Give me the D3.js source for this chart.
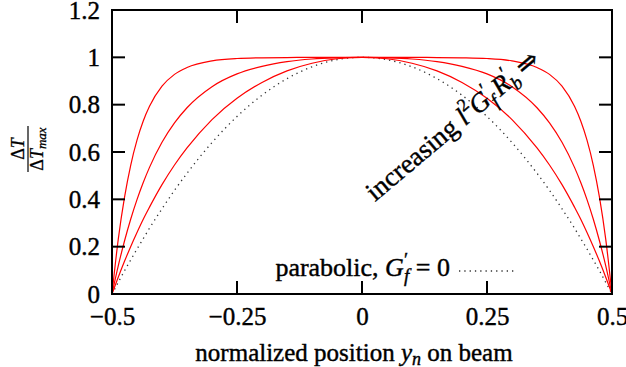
<!DOCTYPE html>
<html>
<head>
<meta charset="utf-8">
<script src="https://cdn.jsdelivr.net/npm/d3@7"></script>
<style>
  body { margin: 0; background: #fff; }
</style>
</head>
<body>
<svg id="chart"></svg>
<script>
// normalized position on the beam
var positions = [-0.5, -0.4875, -0.475, -0.4625, -0.45, -0.4375, -0.425, -0.4, -0.375, -0.35, -0.3, -0.25, -0.2, -0.15, -0.1, -0.05,
                 0, 0.05, 0.1, 0.15, 0.2, 0.25, 0.3, 0.35, 0.375, 0.4, 0.425, 0.4375, 0.45, 0.4625, 0.475, 0.4875, 0.5]

// three red profiles, weakest to strongest
var profileLow = [0, 0.071, 0.138, 0.201, 0.260, 0.316, 0.367, 0.462, 0.545, 0.617, 0.737, 0.827, 0.894, 0.943, 0.975, 0.994,
                  1, 0.994, 0.975, 0.943, 0.894, 0.827, 0.737, 0.617, 0.545, 0.462, 0.367, 0.316, 0.260, 0.201, 0.138, 0.071, 0]
var profileMid = [0, 0.119, 0.224, 0.317, 0.399, 0.471, 0.535, 0.641, 0.723, 0.787, 0.876, 0.930, 0.962, 0.982, 0.993, 0.998,
                  1, 0.998, 0.993, 0.982, 0.962, 0.930, 0.876, 0.787, 0.723, 0.641, 0.535, 0.471, 0.399, 0.317, 0.224, 0.119, 0]
var profileHigh = [0, 0.231, 0.408, 0.545, 0.650, 0.731, 0.793, 0.878, 0.928, 0.957, 0.985, 0.995, 0.998, 0.999, 1, 1,
                   1, 1, 1, 0.999, 0.998, 0.995, 0.985, 0.957, 0.928, 0.878, 0.793, 0.731, 0.650, 0.545, 0.408, 0.231, 0]
// parabolic, G'f = 0
var parabolic = [0, 0.049, 0.098, 0.144, 0.190, 0.234, 0.278, 0.360, 0.438, 0.510, 0.640, 0.750, 0.840, 0.910, 0.960, 0.990,
                 1, 0.990, 0.960, 0.910, 0.840, 0.750, 0.640, 0.510, 0.438, 0.360, 0.278, 0.234, 0.190, 0.144, 0.098, 0.049, 0]

var xTicks = [-0.5, -0.25, 0, 0.25, 0.5]
var yTicks = [0, 0.2, 0.4, 0.6, 0.8, 1, 1.2]

var serif = "'Liberation Serif', 'Times New Roman', 'DejaVu Serif', serif"

var dimensions = {
    width: 626,
    height: 367,
    margin: { top: 10, bottom: 73, right: 14, left: 112 }
}

var svg = d3.select("#chart")
            .attr("width", dimensions.width)
            .attr("height", dimensions.height)
            .style("font-family", serif)

var xScale = d3.scaleLinear()
               .domain([-0.5, 0.5])
               .range([dimensions.margin.left, dimensions.width - dimensions.margin.right])

var yScale = d3.scaleLinear()
               .domain([0, 1.2])
               .range([dimensions.height - dimensions.margin.bottom, dimensions.margin.top])

var x0 = xScale.range()[0], x1 = xScale.range()[1]
var y0 = yScale.range()[0], y1 = yScale.range()[1]
var tickLen = 13

// slightly heavier glyphs, like the reference
function heavy(sel, w){
    sel.style("font-family", serif).attr("fill", "#000").attr("stroke", "#000").attr("stroke-width", w || 0.4)
}

var line = d3.line()
             .x((d, i) => xScale(positions[i]))
             .y(d => yScale(d))
             .curve(d3.curveMonotoneX)

// curves
svg.append("path")
   .attr("d", line(parabolic))
   .attr("fill", "none")
   .attr("stroke", "#333")
   .attr("stroke-width", 1.3)
   .attr("stroke-dasharray", "1.3,4")

var profiles = [profileLow, profileMid, profileHigh]
svg.append("g")
   .selectAll("path")
   .data(profiles)
   .enter()
   .append("path")
   .attr("d", d => line(d))
   .attr("fill", "none")
   .attr("stroke", "#ff0000")
   .attr("stroke-width", 1.2)

// axes with inward ticks on all four sides
var xAxisGen = d3.axisBottom(xScale).tickValues(xTicks).tickSize(0).tickPadding(13)
                 .tickFormat(d => d === 0 ? "0" : d3.format(".2~f")(d))
var xAxis = svg.append("g")
               .attr("transform", `translate(0,${y0})`)
               .call(xAxisGen)
xAxis.attr("font-family", null).attr("font-size", null)
xAxis.selectAll("text").style("font-size", "25px").attr("dy", "0.71em").call(heavy)

var yAxisGen = d3.axisLeft(yScale).tickValues(yTicks).tickSize(0).tickPadding(12)
                 .tickFormat(d => (d === 0 || d === 1) ? String(d) : d3.format(".1f")(d))
var yAxis = svg.append("g")
               .attr("transform", `translate(${x0},0)`)
               .call(yAxisGen)
yAxis.attr("font-family", null).attr("font-size", null)
yAxis.selectAll("text").style("font-size", "25px").call(heavy)
svg.selectAll(".domain").remove()

var ticks = svg.append("g").attr("stroke", "#000").attr("stroke-width", 2)
xTicks.slice(1, -1).forEach(function(t){
    ticks.append("line").attr("x1", xScale(t)).attr("x2", xScale(t)).attr("y1", y0).attr("y2", y0 - tickLen)
    ticks.append("line").attr("x1", xScale(t)).attr("x2", xScale(t)).attr("y1", y1).attr("y2", y1 + tickLen)
})
yTicks.slice(1, -1).forEach(function(t){
    ticks.append("line").attr("y1", yScale(t)).attr("y2", yScale(t)).attr("x1", x0).attr("x2", x0 + tickLen)
    ticks.append("line").attr("y1", yScale(t)).attr("y2", yScale(t)).attr("x1", x1).attr("x2", x1 - tickLen)
})

svg.append("rect")
   .attr("x", x0).attr("y", y1)
   .attr("width", x1 - x0).attr("height", y0 - y1)
   .attr("fill", "none")
   .attr("stroke", "#000")
   .attr("stroke-width", 2)

// x title
var xTitle = svg.append("text")
                .attr("x", 354)
                .attr("y", 361)
                .attr("text-anchor", "middle")
                .style("font-size", "25px")
                .call(heavy)
xTitle.append("tspan").text("normalized position ")
xTitle.append("tspan").style("font-style", "italic").text("y")
xTitle.append("tspan").style("font-style", "italic").style("font-size", "18px").attr("dy", 4).text("n")
xTitle.append("tspan").attr("dy", -4).text(" on beam")

// y title as a fraction
var yTitle = svg.append("g").attr("transform", "translate(28,149) rotate(-90)")
var num = yTitle.append("text").attr("x", 0).attr("y", -4).attr("text-anchor", "middle")
                .style("font-size", "18px").call(heavy, 0.3)
num.append("tspan").text("Δ")
num.append("tspan").style("font-style", "italic").text("T")
yTitle.append("line").attr("x1", -23).attr("x2", 23).attr("y1", 0).attr("y2", 0)
      .attr("stroke", "#000").attr("stroke-width", 1.2)
var den = yTitle.append("text").attr("x", 0).attr("y", 15).attr("text-anchor", "middle")
                .style("font-size", "18px").call(heavy, 0.3)
den.append("tspan").text("Δ")
den.append("tspan").style("font-style", "italic").text("T")
den.append("tspan").style("font-style", "italic").style("font-size", "13px").attr("dy", 3).text("max")

// annotation
var note = svg.append("text")
              .attr("transform", "translate(375,202) rotate(-40)")
              .style("font-size", "27px")
              .call(heavy)
note.append("tspan").text("increasing ")
note.append("tspan").style("font-style", "italic").text("l")
note.append("tspan").style("font-size", "18px").attr("dy", -12).text("2")
note.append("tspan").style("font-style", "italic").attr("dy", 12).text("G")
note.append("tspan").style("font-size", "20px").attr("dy", -10).text("′")
note.append("tspan").style("font-style", "italic").style("font-size", "19px").attr("dx", -4).attr("dy", 16).text("f")
note.append("tspan").style("font-style", "italic").attr("dx", 4).attr("dy", -6).text("R")
note.append("tspan").style("font-size", "20px").attr("dy", -10).text("′")
note.append("tspan").style("font-style", "italic").style("font-size", "19px").attr("dx", -4).attr("dy", 16).text("b")
note.append("tspan").attr("dx", 5).attr("dy", -6).text("⇒")

// key
var key = svg.append("text")
             .attr("x", 450)
             .attr("y", 276)
             .attr("text-anchor", "end")
             .style("font-size", "26px")
             .call(heavy)
key.append("tspan").text("parabolic, ")
key.append("tspan").style("font-style", "italic").text("G")
key.append("tspan").style("font-size", "19px").attr("dy", -10).text("′")
key.append("tspan").style("font-style", "italic").style("font-size", "19px").attr("dx", -4).attr("dy", 16).text("f")
key.append("tspan").attr("dy", -6).text(" = 0")

svg.append("line")
   .attr("x1", 459).attr("x2", 515)
   .attr("y1", 271).attr("y2", 271)
   .attr("stroke", "#333")
   .attr("stroke-width", 1.3)
   .attr("stroke-dasharray", "1.3,4")
</script>
</body>
</html>
